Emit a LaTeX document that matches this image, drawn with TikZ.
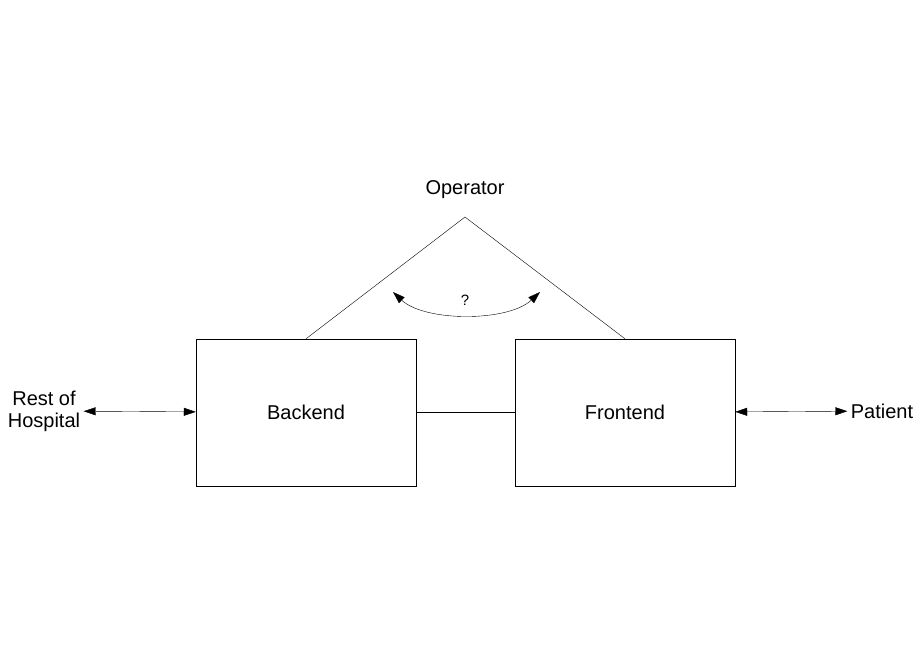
\documentclass[tikz,border=0pt]{standalone}
\usepackage{fontspec}
\setmainfont{Liberation Sans}
\usetikzlibrary{arrows.meta, positioning}

\begin{document}
\begin{tikzpicture}[x=1pt,y=-1pt,
  block/.style={draw, minimum width=220pt, minimum height=147pt, font=\fontsize{20}{24}\selectfont},
  label/.style={font=\fontsize{20}{24}\selectfont, align=center},
  link/.style={{Triangle[length=12pt,width=8pt]}-{Triangle[length=12pt,width=8pt]}}]
  \useasboundingbox (0,0) rectangle (920,660);

  \node[block] (backend) at (306,412.5) {Backend};
  \node[block] (frontend) at (625,412.5) {Frontend};
  \node[label] (operator) at (465,190) {Operator};
  \coordinate (apex) at (465,217);
  \node[label] (hospital) at (44,411) {Rest of\\[-2pt]Hospital};
  \node[label] (patient) at (882,411) {Patient};

  \draw (backend.north) -- (apex) -- (frontend.north);
  \draw (backend) -- (frontend);
  \draw[link] (hospital) -- (backend);
  \draw[link] (frontend) -- (patient);

  % question arc
  \coordinate (arcl) at (393,292);
  \coordinate (arcr) at (540,292);
  \draw[link] (arcl) .. controls (425,322) and (508,322) .. (arcr);
  \node[font=\fontsize{15}{18}\selectfont] (ask) at (465,300) {?};
\end{tikzpicture}
\end{document}
